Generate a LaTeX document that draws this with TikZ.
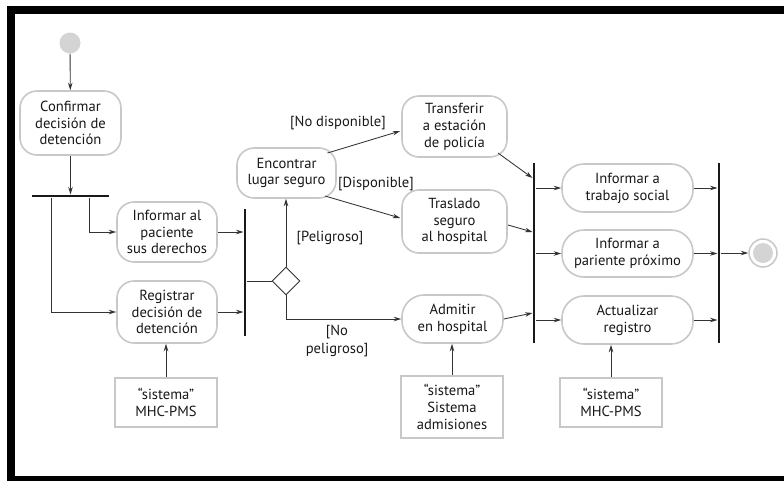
\documentclass[tikz,border=0pt]{standalone}
\usepackage{fontspec}
\setmainfont{PT Sans}
\usetikzlibrary{arrows.meta,shapes.geometric,calc}
\definecolor{txt}{HTML}{1A1718}
\definecolor{boxln}{HTML}{C8C8C8}
\definecolor{conn}{HTML}{333333}
\definecolor{dotfill}{HTML}{D4D4D4}
\tikzset{
  act/.style={draw=boxln, line width=1.6pt, rounded corners=17pt, fill=white,
    align=center, text=txt, inner sep=0pt, font=\fontsize{14.6}{16.8}\selectfont},
  sysbox/.style={draw=boxln, line width=1.8pt, fill=white,
    align=center, text=txt, inner sep=0pt, font=\fontsize{14.6}{17}\selectfont},
  vbar/.style={fill=black!90, draw=none, minimum width=2.6pt, inner sep=0pt},
  hbar/.style={fill=black!90, draw=none, minimum height=2.6pt, inner sep=0pt},
  arr/.style={draw=conn, line width=0.85pt, -{Stealth[length=7.5pt,width=4.5pt]}},
  ln/.style={draw=conn, line width=0.85pt},
  guard/.style={text=txt, font=\fontsize{14.6}{17.5}\selectfont, align=center, inner sep=0pt},
}
\begin{document}
\begin{tikzpicture}[x=1pt,y=-1pt]
\useasboundingbox (0,0) rectangle (784,480);
\fill[white] (0,0) rectangle (784,480);
\draw[line width=8pt] (11,10) rectangle (800,480);

% initial and first action
\node[circle, fill=dotfill, minimum size=21pt, inner sep=0pt] (init) at (70,43) {};
\node[act, minimum width=101pt, minimum height=64pt] (confirm) at (70.5,123) {Confirmar\\decisión de\\detención};
\node[hbar, minimum width=77pt] (fork1) at (70.5,196) {};

% parallel actions
\node[act, minimum width=100pt, minimum height=60pt] (inform) at (167,232) {Informar al\\paciente\\sus derechos};
\node[act, minimum width=100pt, minimum height=62pt] (registrar) at (167,312) {Registrar\\decisión de\\detención};
\node[vbar, minimum height=127pt] (join1) at (245,272.5) {};
\node[diamond, draw=conn, line width=0.85pt, fill=white, minimum width=28pt, minimum height=28pt, inner sep=0pt] (dec) at (286,281) {};

\node[act, minimum width=99pt, minimum height=50pt] (encontrar) at (286.5,173) {Encontrar\\lugar seguro};
\node[act, minimum width=105pt, minimum height=61pt] (transferir) at (454.5,126.5) {Transferir\\a estación\\de policía};
\node[act, minimum width=105pt, minimum height=63pt] (traslado) at (454.5,221.5) {Traslado\\seguro\\al hospital};
\node[act, minimum width=101pt, minimum height=48pt, rounded corners=22pt] (admitir) at (452.5,319) {Admitir\\en hospital};

\node[vbar, minimum height=180pt] (bar2) at (534,253) {};
\node[act, minimum width=131pt, minimum height=48pt, rounded corners=22pt] (trabajo) at (627.5,188) {Informar a\\trabajo social};
\node[act, minimum width=131pt, minimum height=47pt, rounded corners=22pt] (pariente) at (627.5,253.5) {Informar a\\pariente próximo};
\node[act, minimum width=131pt, minimum height=48pt, rounded corners=22pt] (actualizar) at (627.5,320) {Actualizar\\registro};
\node[vbar, minimum height=180pt] (bar3) at (719,253) {};

\node[circle, draw=boxln, line width=1.5pt, fill=white, minimum size=28pt, inner sep=0pt] (final) at (763,253) {};
\fill[dotfill] (final.center) circle (10pt);

% system boxes
\node[sysbox, minimum width=102pt, minimum height=49pt] (sys1) at (166,402.5) {“sistema”\\MHC-PMS};
\node[sysbox, minimum width=102pt, minimum height=62pt] (sys2) at (452,407) {“sistema”\\Sistema\\admisiones};
\node[sysbox, minimum width=102pt, minimum height=49pt] (sys3) at (611,402.5) {“sistema”\\MHC-PMS};

% connectors
\draw[arr] (init) -- (confirm);
\draw[arr] (confirm) -- (fork1);
\draw[arr] (fork1.south -| 51,0) |- (registrar.west);
\draw[arr] (fork1.south -| 89.5,0) |- (inform.west);
\draw[arr] (inform.east) -- (inform.east -| join1.west);
\draw[arr] (registrar.east) -- (registrar.east -| join1.west);
\draw[ln] (join1.east |- dec.west) -- (dec.west);
\draw[arr] (dec.north) -- (encontrar.south -| dec.north);
\draw[arr] (dec.south) |- (admitir.west);
\draw[arr] ($(encontrar)+(41,-20)$) -- ($(transferir.west)+(-1,4.5)$);
\draw[arr] ($(encontrar)+(38.5,23)$) -- ($(traslado.west)+(-1,-3.5)$);
\draw[arr] ($(transferir)+(43.5,26.5)$) -- (bar2.west |- 0,178);
\draw[arr] ($(traslado)+(53.5,3.5)$) -- (bar2.west |- 0,232);
\draw[arr] (admitir.east) -- (bar2.west |- 0,313);
\draw[arr] (bar2.east |- trabajo.west) -- (trabajo.west);
\draw[arr] (bar2.east |- pariente.west) -- (pariente.west);
\draw[arr] (bar2.east |- actualizar.west) -- (actualizar.west);
\draw[arr] (trabajo.east) -- (trabajo.east -| bar3.west);
\draw[arr] (pariente.east) -- (pariente.east -| bar3.west);
\draw[arr] (actualizar.east) -- (actualizar.east -| bar3.west);
\draw[arr] (bar3.east |- final.west) -- (final.west);
\draw[arr] (sys1.north) -- (sys1.north |- registrar.south);
\draw[arr] (sys2.north) -- (sys2.north |- admitir.south);
\draw[arr] (sys3.north) -- (sys3.north |- actualizar.south);

% guards
\node[guard] (g1) at (338,123) {[No disponible]};
\node[guard] (g2) at (376,184) {[Disponible]};
\node[guard] (g3) at (330,238) {[Peligroso]};
\node[guard] (g4) at (337,341) {[No\\peligroso]};
\end{tikzpicture}
\end{document}
